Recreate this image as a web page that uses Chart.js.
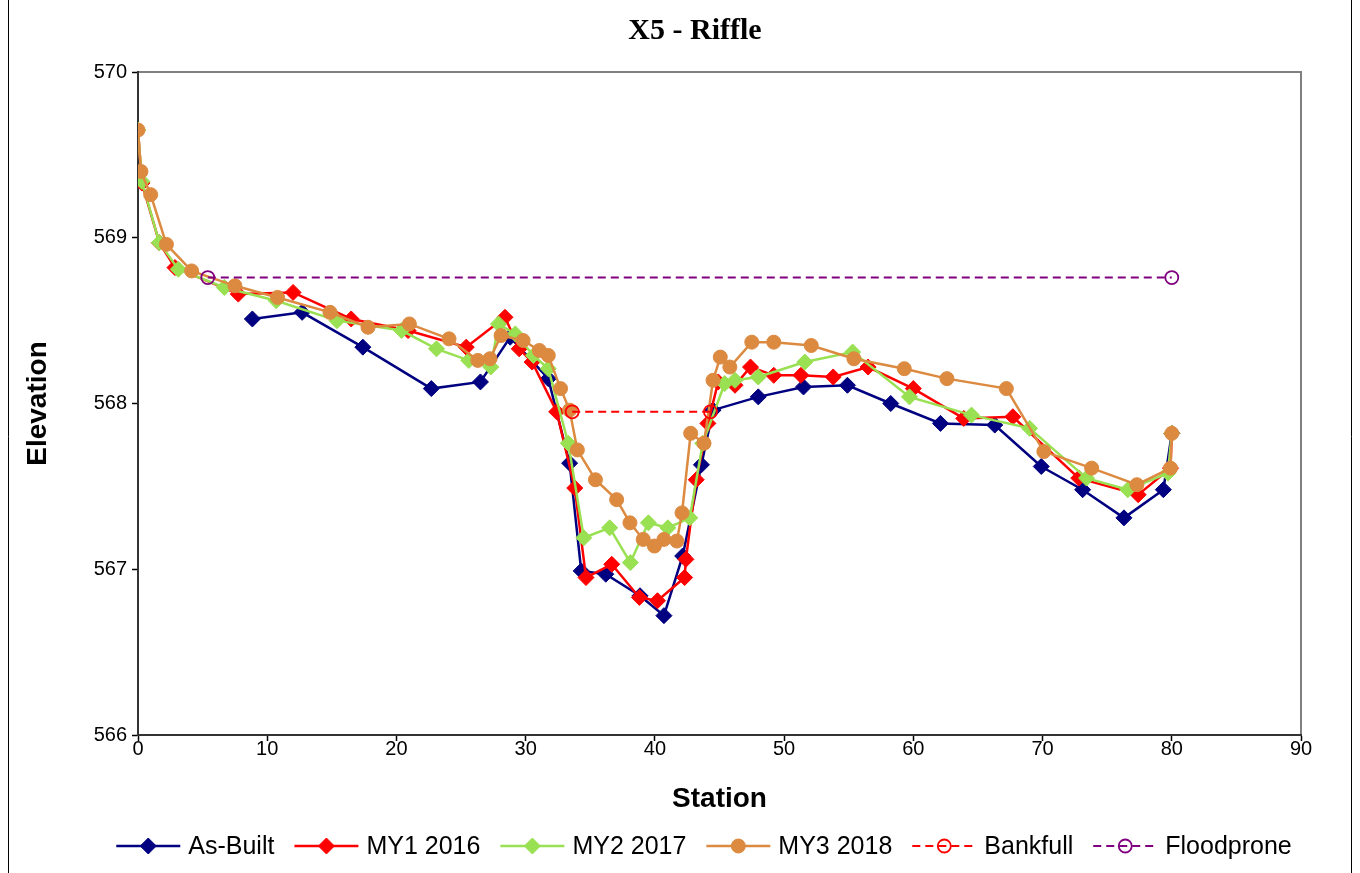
<!DOCTYPE html>
<html>
<head>
<meta charset="utf-8">
<script src="https://cdn.jsdelivr.net/npm/chart.js@4.4.1/dist/chart.umd.min.js"></script>
<style>
  html, body { margin: 0; padding: 0; background: #ffffff; }
  canvas { display: block; }
</style>
</head>
<body>
<canvas id="chart" width="1360" height="873"></canvas>
<script>
// ---- Cross-section X5 (riffle) survey data ----
const chartTitle = 'X5 - Riffle';
const xAxisTitle = 'Station';
const yAxisTitle = 'Elevation';
const xTickValues = [0, 10, 20, 30, 40, 50, 60, 70, 80, 90];
const yTickValues = [566, 567, 568, 569, 570];

const seriesNames = ['As-Built', 'MY1 2016', 'MY2 2017', 'MY3 2018', 'Bankfull', 'Floodprone'];

const asBuiltStation = [8.85, 12.7, 17.4, 22.7, 26.5, 28.8, 31.75, 33.4, 34.3, 36.2, 38.85, 40.7, 42.15, 43.6, 44.5, 48.0, 51.5, 54.9, 58.25, 62.1, 66.3, 69.9, 73.1, 76.3, 79.35, 80.0];
const asBuiltElev    = [568.51, 568.55, 568.34, 568.09, 568.13, 568.40, 568.15, 567.64, 566.99, 566.97, 566.84, 566.72, 567.08, 567.63, 567.96, 568.04, 568.10, 568.11, 568.00, 567.88, 567.87, 567.62, 567.48, 567.31, 567.48, 567.82];

const my1Station = [0, 0.3, 1.65, 2.86, 7.76, 12.0, 16.5, 20.9, 25.4, 28.4, 29.5, 30.5, 32.4, 33.8, 34.67, 36.66, 38.8, 40.2, 42.3, 42.4, 43.2, 44.1, 44.9, 46.2, 47.4, 49.2, 51.3, 53.8, 56.5, 60.0, 63.9, 67.7, 72.8, 77.4, 79.9, 80.0];
const my1Elev    = [569.65, 569.33, 568.97, 568.82, 568.66, 568.67, 568.51, 568.44, 568.34, 568.52, 568.33, 568.25, 567.95, 567.49, 566.95, 567.03, 566.83, 566.81, 566.95, 567.06, 567.54, 567.88, 568.13, 568.11, 568.22, 568.17, 568.17, 568.16, 568.22, 568.09, 567.91, 567.92, 567.55, 567.45, 567.61, 567.82];

const my2Station = [0, 0.3, 1.65, 3.12, 6.68, 10.7, 15.4, 20.4, 23.1, 25.6, 27.3, 27.9, 29.2, 30.6, 31.75, 33.3, 34.5, 36.5, 38.1, 39.5, 41.0, 42.7, 43.7, 45.4, 46.2, 48.0, 51.6, 55.3, 59.7, 64.5, 69.0, 73.4, 76.6, 79.7, 80.0];
const my2Elev    = [569.65, 569.34, 568.97, 568.81, 568.70, 568.62, 568.50, 568.44, 568.33, 568.26, 568.22, 568.48, 568.42, 568.29, 568.21, 567.76, 567.19, 567.25, 567.04, 567.28, 567.25, 567.31, 567.76, 568.12, 568.14, 568.16, 568.25, 568.31, 568.04, 567.93, 567.85, 567.55, 567.48, 567.58, 567.82];

const my3Station = [0, 0.23, 0.98, 2.2, 4.15, 7.5, 10.8, 14.86, 17.8, 21.0, 24.07, 26.3, 27.24, 28.1, 29.8, 31.06, 31.75, 32.7, 33.4, 34.0, 35.4, 37.04, 38.07, 39.1, 39.96, 40.7, 41.7, 42.1, 42.77, 43.8, 44.5, 45.06, 45.8, 47.5, 49.2, 52.1, 55.4, 59.3, 62.6, 67.2, 70.1, 73.8, 77.3, 79.9, 80.0];
const my3Elev    = [569.65, 569.40, 569.26, 568.96, 568.80, 568.71, 568.64, 568.55, 568.46, 568.48, 568.39, 568.26, 568.27, 568.41, 568.38, 568.32, 568.29, 568.09, 567.96, 567.72, 567.54, 567.42, 567.28, 567.18, 567.14, 567.18, 567.17, 567.34, 567.82, 567.76, 568.14, 568.28, 568.22, 568.37, 568.37, 568.35, 568.27, 568.21, 568.15, 568.09, 567.71, 567.61, 567.51, 567.61, 567.82];

const bankfullStation = [33.6, 44.3];
const bankfullElev    = [567.95, 567.95];

const floodproneStation = [5.4, 80.0];
const floodproneElev    = [568.76, 568.76];

// ---- helpers ----
const toPoints = (xs, ys) => xs.map((x, i) => ({ x: x, y: ys[i] }));

const SANS = "'Liberation Sans', Arial, sans-serif";
const SERIF = "'Liberation Serif', 'Times New Roman', serif";

function surveySeries(label, xs, ys, color, style, order) {
  const r = style === 'rectRot' ? 8 : 7;
  return {
    label: label,
    data: toPoints(xs, ys),
    showLine: true,
    borderColor: color,
    backgroundColor: color,
    borderWidth: 2.5,
    pointStyle: style,
    pointRadius: r,
    pointHoverRadius: r,
    pointBorderWidth: 1,
    pointBorderColor: color,
    pointBackgroundColor: color,
    order: order
  };
}

function levelSeries(label, xs, ys, color, order) {
  return {
    label: label,
    data: toPoints(xs, ys),
    showLine: true,
    borderColor: color,
    backgroundColor: '#ffffff',
    borderWidth: 2,
    borderDash: [8, 5],
    pointStyle: 'circle',
    pointRadius: 6.5,
    pointHoverRadius: 6.5,
    pointBorderWidth: 1.8,
    pointBorderColor: color,
    pointBackgroundColor: 'rgba(255,255,255,0)',
    order: order
  };
}

const datasets = [
  surveySeries(seriesNames[0], asBuiltStation, asBuiltElev, '#000080', 'rectRot', 6),
  surveySeries(seriesNames[1], my1Station, my1Elev, '#ff0000', 'rectRot', 5),
  surveySeries(seriesNames[2], my2Station, my2Elev, '#99e052', 'rectRot', 4),
  surveySeries(seriesNames[3], my3Station, my3Elev, '#dc8a40', 'circle', 3),
  levelSeries(seriesNames[4], bankfullStation, bankfullElev, '#ff0000', 2),
  levelSeries(seriesNames[5], floodproneStation, floodproneElev, '#800080', 1)
];

// Page frame, plot border, title and bottom legend
const decorations = {
  id: 'decorations',
  beforeDraw(chart) {
    const ctx = chart.ctx;
    const a = chart.chartArea;
    ctx.save();
    ctx.fillStyle = '#ffffff';
    ctx.fillRect(0, 0, chart.width, chart.height);
    // outer frame sides
    ctx.strokeStyle = '#000000';
    ctx.lineWidth = 1;
    ctx.beginPath();
    ctx.moveTo(8.5, 0); ctx.lineTo(8.5, chart.height);
    ctx.moveTo(1351.5, 0); ctx.lineTo(1351.5, chart.height);
    ctx.stroke();
    // plot area border
    ctx.strokeStyle = '#808080';
    ctx.lineWidth = 2;
    ctx.strokeRect(a.left, a.top, a.right - a.left, a.bottom - a.top);
    ctx.restore();
  },
  afterDraw(chart) {
    const ctx = chart.ctx;
    ctx.save();
    // title
    ctx.fillStyle = '#000000';
    ctx.font = 'bold 30px ' + SERIF;
    ctx.textAlign = 'center';
    ctx.textBaseline = 'middle';
    ctx.fillText(chartTitle, 695, 31);

    // legend
    ctx.font = '25px ' + SANS;
    const lineLen = 64, gapText = 8, gapItem = 20;
    const items = chart.data.datasets.map(ds => ({ ds: ds, w: ctx.measureText(ds.label).width }));
    const total = items.reduce((s, it) => s + lineLen + gapText + it.w, 0) + gapItem * (items.length - 1);
    let x = 704 - total / 2;
    const y = 846;
    items.forEach(it => {
      const ds = it.ds;
      ctx.save();
      ctx.strokeStyle = ds.borderColor;
      ctx.lineWidth = ds.borderWidth;
      ctx.setLineDash(ds.borderDash || []);
      ctx.beginPath();
      ctx.moveTo(x, y); ctx.lineTo(x + lineLen, y);
      ctx.stroke();
      ctx.setLineDash([]);
      ctx.fillStyle = ds.pointBackgroundColor;
      ctx.strokeStyle = ds.pointBorderColor;
      ctx.lineWidth = ds.pointBorderWidth;
      Chart.helpers.drawPoint(ctx, {
        pointStyle: ds.pointStyle,
        radius: ds.pointRadius,
        rotation: 0,
        borderWidth: ds.pointBorderWidth
      }, x + lineLen / 2, y);
      ctx.restore();
      ctx.fillStyle = '#000000';
      ctx.textAlign = 'left';
      ctx.textBaseline = 'middle';
      ctx.fillText(ds.label, x + lineLen + gapText, y + 1);
      x += lineLen + gapText + it.w + gapItem;
    });
    ctx.restore();
  }
};

new Chart(document.getElementById('chart'), {
  type: 'scatter',
  data: { datasets: datasets },
  options: {
    responsive: false,
    animation: false,
    events: [],
    layout: { padding: { left: 0, top: 72, right: 59, bottom: 0 } },
    plugins: {
      legend: { display: false },
      title: { display: false },
      tooltip: { enabled: false }
    },
    scales: {
      x: {
        type: 'linear',
        min: xTickValues[0],
        max: xTickValues[xTickValues.length - 1],
        afterBuildTicks: (scale) => { scale.ticks = xTickValues.map(v => ({ value: v })); },
        afterFit: (scale) => { scale.height = 138; },
        ticks: {
          color: '#000000',
          font: { family: SANS, size: 20 },
          padding: -4,
          maxRotation: 0,
          autoSkip: false
        },
        grid: { drawOnChartArea: false, drawTicks: true, tickLength: 6, tickColor: '#000000', tickWidth: 1.5 },
        border: { display: true, color: '#333333', width: 2 },
        title: {
          display: true,
          text: xAxisTitle,
          color: '#000000',
          font: { family: SANS, size: 28, weight: 'bold' },
          padding: { top: 0, bottom: 57 }
        }
      },
      y: {
        type: 'linear',
        min: yTickValues[0],
        max: yTickValues[yTickValues.length - 1],
        afterBuildTicks: (scale) => { scale.ticks = yTickValues.map(v => ({ value: v })); },
        afterFit: (scale) => { scale.width = 138; },
        ticks: {
          color: '#000000',
          font: { family: SANS, size: 20 },
          padding: 5
        },
        grid: { drawOnChartArea: false, drawTicks: true, tickLength: 6, tickColor: '#000000', tickWidth: 1.5 },
        border: { display: true, color: '#333333', width: 2 },
        title: {
          display: true,
          text: yAxisTitle,
          color: '#000000',
          font: { family: SANS, size: 28, weight: 'bold' },
          padding: { top: 21, bottom: 0 }
        }
      }
    }
  },
  plugins: [decorations]
});
</script>
</body>
</html>
